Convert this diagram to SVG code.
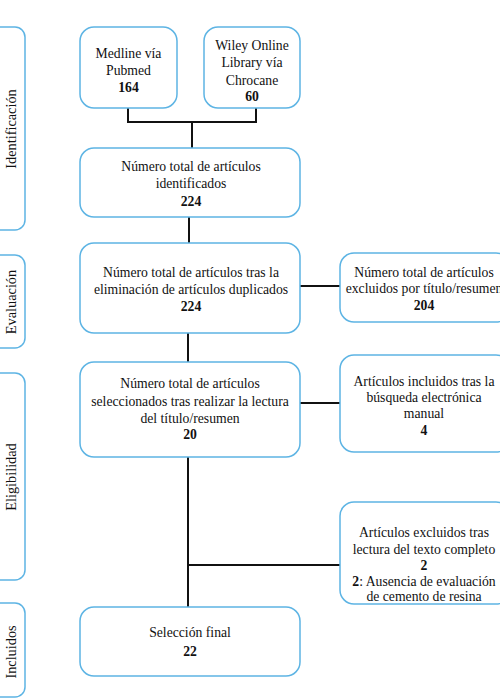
<svg xmlns="http://www.w3.org/2000/svg" width="500" height="700" viewBox="0 0 500 700" font-family="'Liberation Serif', 'Times New Roman', serif" font-size="13.7">
<style>
.box{fill:#fff;stroke:#5db4e4;stroke-width:1.5}
.side{fill:#fff;stroke:#5db4e4;stroke-width:1.5}
text{font-family:'Liberation Serif','Times New Roman',serif;font-size:13.7px;fill:#111;text-anchor:middle}
.rot{font-size:14.3px}
.b{font-weight:bold}
.con{fill:none;stroke:#111;stroke-width:2}
</style>
<rect width="500" height="700" fill="#fff"/>
<g id="phase-identificacion"><rect class="side" x="-12" y="27" width="37" height="203" rx="10"/><text class="rot" transform="translate(16,129) rotate(-90)">Identificación</text></g>
<g id="phase-evaluacion"><rect class="side" x="-12" y="255" width="37" height="93" rx="10"/><text class="rot" transform="translate(16,302) rotate(-90)">Evaluación</text></g>
<g id="phase-eligibilidad"><rect class="side" x="-12" y="373" width="37" height="207" rx="10"/><text class="rot" transform="translate(16,477) rotate(-90)">Eligibilidad</text></g>
<g id="phase-incluidos"><rect class="side" x="-12" y="603" width="37" height="94" rx="10"/><text class="rot" transform="translate(16,652) rotate(-90)">Incluidos</text></g>
<g id="connectors">
<path class="con" d="M128 108V122H256V108M192 122V148"/>
<path class="con" d="M189 217V243"/>
<path class="con" d="M188 333V362"/>
<path class="con" d="M300 286H340"/>
<path class="con" d="M300 403H340"/>
<path class="con" d="M188 457V607"/>
<path class="con" d="M188 565H340"/>
</g>
<g id="medline"><rect class="box" x="80" y="27" width="97" height="81" rx="14"/><text x="128.5" y="58">Medline vía</text><text x="128.5" y="75">Pubmed</text><text class="b" x="128.5" y="92">164</text></g>
<g id="wiley"><rect class="box" x="204" y="27" width="96" height="81" rx="14"/><text x="252" y="50">Wiley Online</text><text x="252" y="67">Library vía</text><text x="252" y="85">Chrocane</text><text class="b" x="252" y="101">60</text></g>
<g id="identificados"><rect class="box" x="80" y="148" width="220" height="69" rx="14"/><text x="191" y="171">Número total de artículos</text><text x="191" y="188">identificados</text><text class="b" x="191" y="206">224</text></g>
<g id="duplicados"><rect class="box" x="80" y="243" width="220" height="90" rx="14"/><text x="191" y="277">Número total de artículos tras la</text><text x="191" y="294">eliminación de artículos duplicados</text><text class="b" x="191" y="311">224</text></g>
<g id="seleccionados"><rect class="box" x="80" y="362" width="220" height="95" rx="14"/><text x="190" y="388">Número total de artículos</text><text x="190" y="406">seleccionados tras realizar la lectura</text><text x="190" y="423">del título/resumen</text><text class="b" x="190" y="439">20</text></g>
<g id="final"><rect class="box" x="80" y="607" width="220" height="69" rx="14"/><text x="190" y="637">Selección final</text><text class="b" x="190" y="656">22</text></g>
<g id="excluidos-titulo"><rect class="box" x="340" y="253" width="170" height="69" rx="14"/><text x="424" y="277">Número total de artículos</text><text x="424" y="293">excluidos por título/resumen</text><text class="b" x="424" y="310">204</text></g>
<g id="incluidos-manual"><rect class="box" x="340" y="355" width="170" height="97" rx="14"/><text x="424" y="386">Artículos incluidos tras la</text><text x="424" y="402">búsqueda electrónica</text><text x="424" y="418">manual</text><text class="b" x="424" y="435">4</text></g>
<g id="excluidos-texto"><rect class="box" x="340" y="502" width="170" height="102" rx="14"/><text x="424" y="537">Artículos excluidos tras</text><text x="424" y="554">lectura del texto completo</text><text class="b" x="424" y="570">2</text><text x="424" y="586"><tspan class="b">2</tspan>: Ausencia de evaluación</text><text x="424" y="601">de cemento de resina</text></g>
</svg>
